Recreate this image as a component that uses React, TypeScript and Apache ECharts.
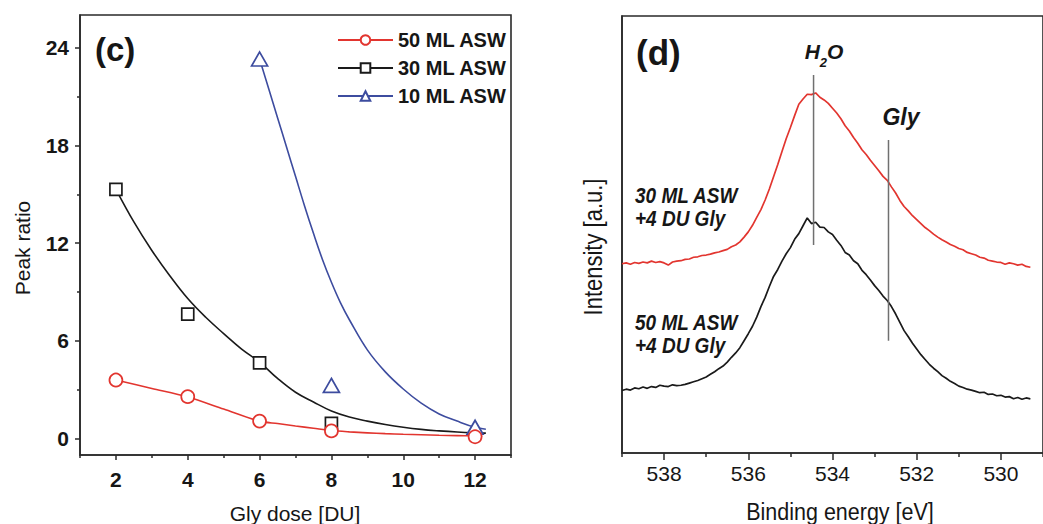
import { useEffect, useRef } from 'react';
import * as echarts from 'echarts';

// ---------- Panel (c): peak ratio vs Gly dose ----------
const doseTicks = [2, 4, 6, 8, 10, 12];
const doseMinorTicks = [1, 3, 5, 7, 9, 11, 13];
const ratioTicks = [0, 6, 12, 18, 24];
const ratioMinorTicks = [3, 9, 15, 21];

const dose50 = [2, 4, 6, 8, 12];
const peak50 = [3.6, 2.58, 1.08, 0.48, 0.12];
const dose30 = [2, 4, 6, 8];
const peak30 = [15.3, 7.65, 4.65, 0.94];
const dose10 = [6, 8, 12];
const peak10 = [23.3, 3.27, 0.7];

const fit50X = [2, 3, 4, 5, 6, 6.5, 7, 7.5, 8, 8.5, 9, 9.5, 10, 10.5, 11, 11.5, 12, 12.2];
const fit50Y = [3.6, 3.08, 2.56, 1.82, 1.08, 0.93, 0.78, 0.64, 0.5, 0.42, 0.36, 0.31, 0.27, 0.24, 0.21, 0.19, 0.17, 0.16];
const fit30X = [2, 2.5, 3, 3.5, 4, 4.5, 5, 5.5, 6, 6.5, 7, 7.5, 8, 8.5, 9, 9.5, 10, 10.5, 11, 11.5, 12, 12.3];
const fit30Y = [15.3, 13.3, 11.55, 10.0, 8.6, 7.45, 6.45, 5.5, 4.7, 3.7, 2.85, 2.25, 1.7, 1.33, 1.08, 0.87, 0.7, 0.57, 0.48, 0.41, 0.36, 0.34];
const fit10X = [6, 6.25, 6.5, 6.75, 7, 7.25, 7.5, 7.75, 8, 8.25, 8.5, 9, 9.5, 10, 10.5, 11, 11.5, 12, 12.3];
const fit10Y = [23.3, 21.5, 19.7, 17.9, 16.1, 14.3, 12.6, 11.0, 9.6, 8.35, 7.3, 5.45, 4.1, 3.05, 2.18, 1.52, 1.08, 0.7, 0.58];

const seriesNames = ['50 ML ASW', '30 ML ASW', '10 ML ASW'];

// ---------- Panel (d): XPS O 1s spectra ----------
const energyTicks = [530, 532, 534, 536, 538];
const energyMinorTicks = [529, 531, 533, 535, 537, 539];
const energyEV = [
  539.0, 538.9, 538.8, 538.7, 538.6, 538.5, 538.4, 538.3, 538.2, 538.1,
  538.0, 537.9, 537.8, 537.7, 537.6, 537.5, 537.4, 537.3, 537.2, 537.1,
  537.0, 536.9, 536.8, 536.7, 536.6, 536.5, 536.4, 536.3, 536.2, 536.1,
  536.0, 535.9, 535.8, 535.7, 535.6, 535.5, 535.4, 535.3, 535.2, 535.1,
  535.0, 534.9, 534.8, 534.7, 534.6, 534.5, 534.4, 534.3, 534.2, 534.1,
  534.0, 533.9, 533.8, 533.7, 533.6, 533.5, 533.4, 533.3, 533.2, 533.1,
  533.0, 532.9, 532.8, 532.7, 532.6, 532.5, 532.4, 532.3, 532.2, 532.1,
  532.0, 531.9, 531.8, 531.7, 531.6, 531.5, 531.4, 531.3, 531.2, 531.1,
  531.0, 530.9, 530.8, 530.7, 530.6, 530.5, 530.4, 530.3, 530.2, 530.1,
  530.0, 529.9, 529.8, 529.7, 529.6, 529.5, 529.4, 529.3,
];
const intensity30 = [
  43.3, 43.5, 43.2, 43.6, 43.4, 43.7, 43.5, 43.9, 43.6, 43.8,
  43.5, 43.0, 43.7, 43.9, 44.0, 44.3, 44.4, 44.8, 44.9, 45.2,
  45.3, 45.5, 45.8, 46.0, 46.3, 46.6, 47.2, 47.6, 48.3, 49.4,
  50.6, 52.1, 53.9, 55.7, 57.9, 60.4, 63.2, 66.0, 69.0, 71.9,
  74.5, 77.2, 79.8, 81.0, 82.1, 82.0, 82.4, 81.4, 80.8, 80.0,
  78.9, 77.8, 76.5, 74.9, 73.7, 72.2, 70.9, 69.4, 68.3, 67.0,
  65.8, 64.6, 63.3, 62.4, 60.9, 59.5, 57.8, 56.4, 55.4, 54.3,
  53.4, 52.5, 51.6, 50.9, 50.1, 49.4, 48.8, 48.3, 47.7, 47.3,
  46.8, 46.5, 45.9, 45.6, 45.3, 44.8, 44.6, 44.1, 43.9, 43.7,
  43.6, 43.2, 43.5, 43.3, 43.0, 43.2, 42.7, 42.5,
];
const intensity50 = [
  14.3, 14.6, 14.4, 14.9, 14.7, 15.1, 14.8, 15.2, 15.0, 15.5,
  15.3, 15.2, 15.6, 15.4, 15.5, 15.7, 16.0, 16.3, 16.6, 17.0,
  17.4, 18.0, 18.6, 19.3, 19.9, 20.8, 21.9, 22.9, 24.1, 25.7,
  27.3, 29.0, 31.1, 33.5, 35.6, 38.1, 40.4, 42.0, 43.9, 45.6,
  47.0, 48.9, 50.2, 52.0, 53.8, 52.5, 52.8, 51.7, 51.6, 50.6,
  50.0, 48.7, 47.5, 45.9, 45.3, 44.0, 43.3, 41.8, 40.8, 39.6,
  38.3, 37.2, 35.9, 34.9, 33.5, 31.8, 29.9, 28.0, 26.6, 25.1,
  23.8, 22.5, 21.4, 20.3, 19.4, 18.6, 17.7, 17.1, 16.4, 15.9,
  15.3, 15.0, 14.6, 14.4, 14.1, 13.8, 13.9, 13.4, 13.5, 13.1,
  13.2, 12.8, 12.9, 12.4, 12.7, 12.3, 12.6, 12.4,
];
const h2oLineX = [534.45, 534.45];
const h2oLineY = [47.6, 86.5];
const glyLineX = [532.67, 532.67];
const glyLineY = [25.7, 71.6];

const FONT = "'Liberation Sans', Arial, sans-serif";
const AXIS = '#2a2a2a';
const TXT = '#161616';
const RED = '#e2352f';
const BLACK = '#1a1a1a';
const BLUE = '#3d4c9f';
const GREY = '#707070';

const pairs = (xs: number[], ys: number[]) => xs.map((x, i) => [x, ys[i]]);

const lineAxis = { show: true, onZero: false, lineStyle: { color: AXIS, width: 1.6 } };

const txt = (
  x: number, y: number, text: string, size: number,
  opts: { weight?: string; italic?: boolean; align?: string; rotation?: number; scaleY?: number } = {}
) => ({
  type: 'text', x, y, rotation: opts.rotation || 0, scaleY: opts.scaleY || 1,
  style: {
    text, fontSize: size, fontWeight: opts.weight || 'normal', fontStyle: opts.italic ? 'italic' : 'normal',
    fontFamily: FONT, fill: TXT,
    textAlign: opts.align || 'center', textVerticalAlign: 'middle',
    align: opts.align || 'center', verticalAlign: 'middle',
  },
});

function buildOption() {
  return {
    animation: false,
    backgroundColor: '#ffffff',
    grid: [
      { left: 80, top: 15, width: 431, height: 440, show: true, borderColor: AXIS, borderWidth: 1.6, backgroundColor: 'transparent' },
      { left: 622, top: 16, width: 436, height: 437, show: true, borderColor: AXIS, borderWidth: 1.6, backgroundColor: 'transparent' },
    ],
    legend: {
      orient: 'vertical',
      left: 337,
      top: 30,
      padding: 0,
      itemWidth: 55,
      itemHeight: 12,
      itemGap: 8,
      selectedMode: false,
      textStyle: { fontSize: 20, fontWeight: 'bold', color: TXT, fontFamily: FONT },
      data: seriesNames,
    },
    xAxis: [
      {
        gridIndex: 0, type: 'value', min: 1, max: 13, position: 'bottom',
        axisLine: lineAxis,
        axisTick: { show: true, inside: false, length: 5, customValues: doseTicks, lineStyle: { color: AXIS, width: 1.5 } },
        axisLabel: { show: true, customValues: doseTicks, margin: 14, fontSize: 21, fontWeight: 'bold', color: TXT, fontFamily: FONT },
        splitLine: { show: false },
      },
      {
        gridIndex: 0, type: 'value', min: 1, max: 13, position: 'bottom',
        axisLine: { show: false, onZero: false },
        axisTick: { show: true, inside: false, length: 3, customValues: doseMinorTicks, lineStyle: { color: AXIS, width: 1.5 } },
        axisLabel: { show: false },
        splitLine: { show: false },
      },
      {
        gridIndex: 1, type: 'value', min: 529, max: 539, inverse: true, position: 'bottom',
        axisLine: lineAxis,
        axisTick: { show: true, inside: false, length: 7, customValues: energyTicks, lineStyle: { color: AXIS, width: 1.5 } },
        axisLabel: { show: true, customValues: energyTicks, margin: 10, fontSize: 21, color: TXT, fontFamily: FONT },
        splitLine: { show: false },
      },
      {
        gridIndex: 1, type: 'value', min: 529, max: 539, inverse: true, position: 'bottom',
        axisLine: { show: false, onZero: false },
        axisTick: { show: true, inside: false, length: 4, customValues: energyMinorTicks, lineStyle: { color: AXIS, width: 1.5 } },
        axisLabel: { show: false },
        splitLine: { show: false },
      },
    ],
    yAxis: [
      {
        gridIndex: 0, type: 'value', min: -1, max: 26, position: 'left',
        axisLine: lineAxis,
        axisTick: { show: true, inside: false, length: 5, customValues: ratioTicks, lineStyle: { color: AXIS, width: 1.5 } },
        axisLabel: { show: true, customValues: ratioTicks, margin: 11, fontSize: 21, fontWeight: 'bold', color: TXT, fontFamily: FONT },
        splitLine: { show: false },
      },
      {
        gridIndex: 0, type: 'value', min: -1, max: 26, position: 'left',
        axisLine: { show: false, onZero: false },
        axisTick: { show: true, inside: false, length: 3, customValues: ratioMinorTicks, lineStyle: { color: AXIS, width: 1.5 } },
        axisLabel: { show: false },
        splitLine: { show: false },
      },
      {
        gridIndex: 1, type: 'value', min: 0, max: 100, position: 'left',
        axisLine: lineAxis,
        axisTick: { show: false },
        axisLabel: { show: false },
        splitLine: { show: false },
      },
    ],
    series: [
      // fitted curves (first with each name => legend icon)
      {
        type: 'line', name: seriesNames[0], xAxisIndex: 0, yAxisIndex: 0, data: pairs(fit50X, fit50Y),
        smooth: 0.3, showSymbol: false, symbol: 'emptyCircle', lineStyle: { color: RED, width: 1.6 }, itemStyle: { color: RED }, z: 2,
      },
      {
        type: 'line', name: seriesNames[1], xAxisIndex: 0, yAxisIndex: 0, data: pairs(fit30X, fit30Y),
        smooth: 0.4, showSymbol: false, symbol: 'emptyRect', lineStyle: { color: BLACK, width: 1.6 }, itemStyle: { color: BLACK }, z: 2,
      },
      {
        type: 'line', name: seriesNames[2], xAxisIndex: 0, yAxisIndex: 0, data: pairs(fit10X, fit10Y),
        smooth: 0.4, showSymbol: false, symbol: 'emptyTriangle', lineStyle: { color: BLUE, width: 1.6 }, itemStyle: { color: BLUE }, z: 2,
      },
      // measured points
      {
        type: 'scatter', name: seriesNames[0], xAxisIndex: 0, yAxisIndex: 0, data: pairs(dose50, peak50),
        symbol: 'circle', symbolSize: 13, itemStyle: { color: '#ffffff', borderColor: RED, borderWidth: 1.7, opacity: 1 }, z: 4,
      },
      {
        type: 'scatter', name: seriesNames[1], xAxisIndex: 0, yAxisIndex: 0, data: pairs(dose30, peak30),
        symbol: 'rect', symbolSize: 12, itemStyle: { color: '#ffffff', borderColor: BLACK, borderWidth: 1.7, opacity: 1 }, z: 3,
      },
      {
        type: 'scatter', name: seriesNames[2], xAxisIndex: 0, yAxisIndex: 0, data: pairs(dose10, peak10),
        symbol: 'triangle', symbolSize: [16, 14], itemStyle: { color: '#ffffff', borderColor: BLUE, borderWidth: 1.7, opacity: 1 }, z: 3,
      },
      // spectra
      {
        type: 'line', name: '30 ML ASW +4 DU Gly', xAxisIndex: 2, yAxisIndex: 2, data: pairs(energyEV, intensity30),
        symbol: 'none', lineStyle: { color: RED, width: 1.7 }, z: 2,
      },
      {
        type: 'line', name: '50 ML ASW +4 DU Gly', xAxisIndex: 2, yAxisIndex: 2, data: pairs(energyEV, intensity50),
        symbol: 'none', lineStyle: { color: BLACK, width: 1.7 }, z: 2,
      },
      {
        type: 'line', name: 'H2O position', xAxisIndex: 2, yAxisIndex: 2, data: pairs(h2oLineX, h2oLineY),
        symbol: 'none', lineStyle: { color: GREY, width: 1.5 }, z: 3,
      },
      {
        type: 'line', name: 'Gly position', xAxisIndex: 2, yAxisIndex: 2, data: pairs(glyLineX, glyLineY),
        symbol: 'none', lineStyle: { color: GREY, width: 1.5 }, z: 3,
      },
    ],
    graphic: [
      txt(95, 49, '(c)', 33, { weight: 'bold', align: 'left' }),
      txt(636, 52, '(d)', 35, { weight: 'bold', align: 'left' }),
      txt(22, 248, 'Peak ratio', 21, { rotation: Math.PI / 2 }),
      txt(295, 513, 'Gly dose [DU]', 21),
      txt(593, 247, 'Intensity [a.u.]', 22, { rotation: Math.PI / 2, scaleY: 1.15 }),
      txt(840, 511, 'Binding energy [eV]', 21.5, { scaleY: 1.15 }),
      {
        type: 'text', x: 824, y: 51,
        style: {
          text: '{a|H}{b|2}{a|O}', textAlign: 'center', textVerticalAlign: 'middle', align: 'center', verticalAlign: 'middle', fill: TXT,
          rich: {
            a: { fontSize: 21, fontStyle: 'italic', fontWeight: 'bold', fontFamily: FONT, lineHeight: 36, verticalAlign: 'middle', fill: TXT, color: TXT },
            b: { fontSize: 13, fontStyle: 'italic', fontWeight: 'bold', fontFamily: FONT, lineHeight: 13, verticalAlign: 'bottom', fill: TXT, color: TXT },
          },
        },
      },
      txt(901, 117, 'Gly', 23, { italic: true, weight: 'bold' }),
      txt(635, 195, '30 ML ASW', 19, { italic: true, weight: 'bold', align: 'left', scaleY: 1.2 }),
      txt(635, 218, '+4 DU Gly', 19, { italic: true, weight: 'bold', align: 'left', scaleY: 1.2 }),
      txt(635, 322, '50 ML ASW', 19, { italic: true, weight: 'bold', align: 'left', scaleY: 1.2 }),
      txt(635, 345, '+4 DU Gly', 19, { italic: true, weight: 'bold', align: 'left', scaleY: 1.2 }),
    ],
  };
}

export default function App() {
  const ref = useRef<HTMLDivElement>(null);
  useEffect(() => {
    if (!ref.current) return;
    const chart = echarts.init(ref.current, null, { renderer: 'svg' });
    chart.setOption(buildOption() as any);
    return () => chart.dispose();
  }, []);
  return (
    <div
      ref={ref}
      style={{ position: 'absolute', left: 0, top: 0, width: 1043, height: 524, background: '#ffffff', overflow: 'hidden' }}
    />
  );
}
